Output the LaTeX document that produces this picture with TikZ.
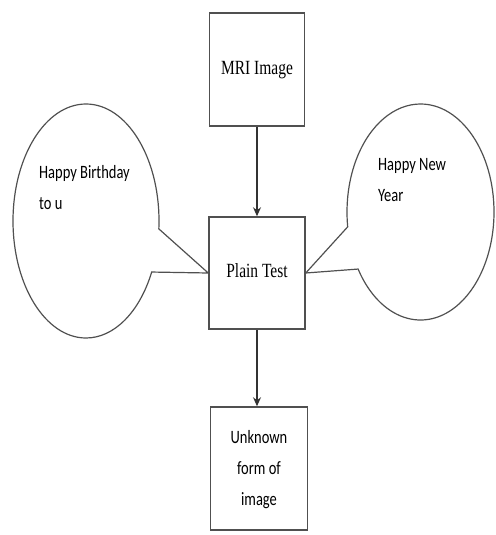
\documentclass[tikz,border=0pt]{standalone}
\usepackage{fontspec}
\setmainfont{Liberation Serif}
\newfontfamily\calib{Carlito}
\usetikzlibrary{shapes.callouts,arrows.meta}
\definecolor{edge}{HTML}{505050}
\newcommand{\tallt}[1]{\scalebox{1}[1.3]{\begin{tabular}{@{}l@{}}#1\end{tabular}}}
\newcommand{\tallc}[1]{\scalebox{1}[1.3]{\begin{tabular}{@{}c@{}}#1\end{tabular}}}
\tikzset{
  stepbox/.style={draw=edge, line width=1.5pt, fill=white, inner sep=0pt},
  bubble/.style={ellipse callout, draw=edge, line width=1.2pt, inner sep=0pt, callout pointer arc=20},
  flow/.style={draw=black!80, line width=1.3pt, -{Stealth[length=9pt,width=8pt]}},
  serifl/.style={font=\fontsize{15.5}{18}\selectfont},
  sansl/.style={font=\calib\fontsize{14.5}{24}\selectfont},
}
\begin{document}
\begin{tikzpicture}[x=1pt,y=-1pt]
\useasboundingbox (0,0) rectangle (495,535);
\node[stepbox, minimum width=95pt, minimum height=113pt, serifl] (mri) at (257,69.5) {\tallc{MRI Image}};
\node[stepbox, minimum width=96pt, minimum height=112pt, serifl] (plain) at (257,273) {\tallc{Plain Test}};
\node[stepbox, minimum width=97pt, minimum height=123pt, sansl] (unk) at (259,468.5) {\tallc{Unknown\\form of\\image}};
\node[bubble, minimum width=146pt, minimum height=234pt, callout absolute pointer={(plain.west)}, callout pointer arc=22] (bl) at (86,221) {};
\node[bubble, minimum width=147pt, minimum height=216pt, callout absolute pointer={(plain.east)}, callout pointer arc=24] (br) at (420.5,212) {};
\node[sansl, anchor=north west, inner sep=0pt] (tl) at (39,156) {\tallt{Happy Birthday\\to u}};
\node[sansl, anchor=north west, inner sep=0pt] (tr) at (378,148) {\tallt{Happy New\\Year}};
\draw[flow] (mri) -- (plain);
\draw[flow] (plain) -- (unk.north -| plain.south);
\end{tikzpicture}
\end{document}
